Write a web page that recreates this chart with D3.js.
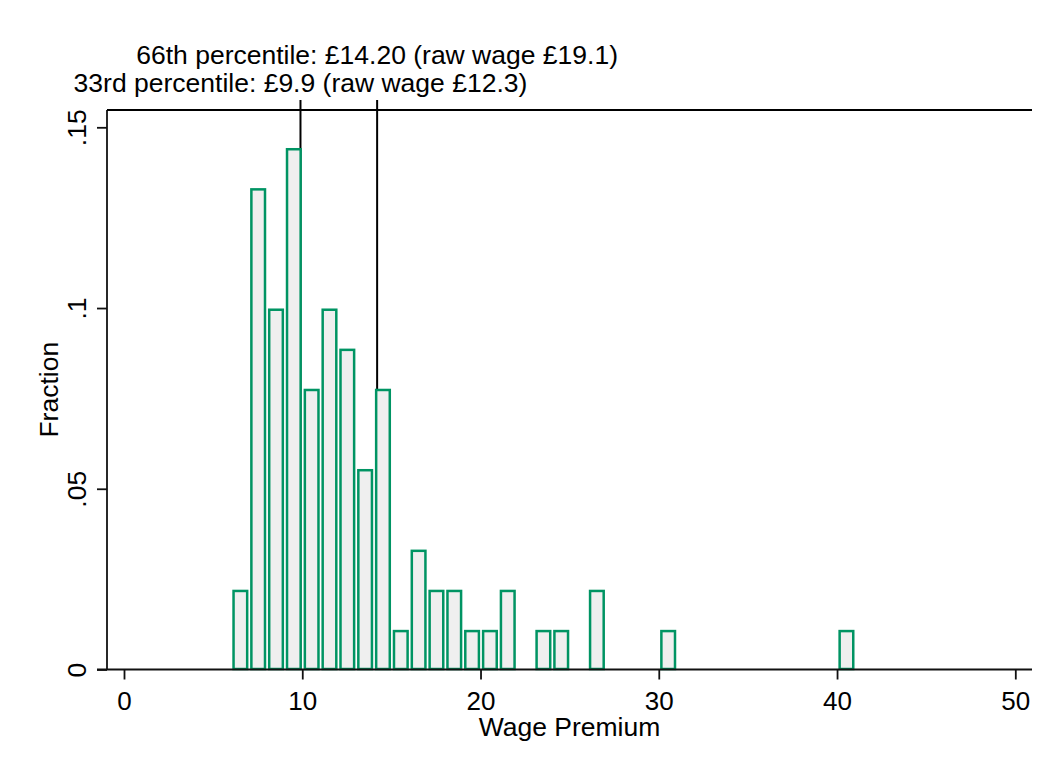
<!DOCTYPE html>
<html><head><meta charset="utf-8">
<script src="https://cdn.jsdelivr.net/npm/d3@7"></script>
<style>body{margin:0;background:#fff;overflow:hidden}</style></head>
<body>
<script>
// ---- data ----
const binStarts = [6.05, 7.05, 8.05, 9.05, 10.05, 11.05, 12.05, 13.05, 14.05, 15.05, 16.05, 17.05, 18.05, 19.05, 20.05, 21.05, 23.05, 24.05, 26.05, 30.05, 40.05];
const fractions = [0.0222, 0.1333, 0.1, 0.1444, 0.0778, 0.1, 0.0889, 0.0556, 0.0778, 0.0111, 0.0333, 0.0222, 0.0222, 0.0111, 0.0111, 0.0222, 0.0111, 0.0111, 0.0222, 0.0111, 0.0111];
const binWidth = 1;
const percentileValues = [14.2, 9.9];
const percentileLabels = ["66th percentile: £14.20 (raw wage £19.1)", "33rd percentile: £9.9 (raw wage £12.3)"];
const xTicks = [0, 10, 20, 30, 40, 50];
const yTicks = [0, 0.05, 0.1, 0.15];
const yTickLabels = ["0", ".05", ".1", ".15"];
const xTitle = "Wage Premium";
const yTitle = "Fraction";

// ---- layout ----
const W = 1061, H = 774;
const FONT = "'Liberation Sans', Arial, Helvetica, sans-serif";
const svg = d3.select("body").append("svg").attr("width", W).attr("height", H)
  .style("font-family", FONT);
svg.append("rect").attr("width", W).attr("height", H).attr("fill", "#fff");

const x = d3.scaleLinear().domain([0, 50]).range([124, 1015.3]);
const y = d3.scaleLinear().domain([0, 0.15]).range([669.5, 127.3]);
const axisLeftX = 107, plotTop = 110, axisRight = 1032, axisLeftExt = 97;

// percentile lines (behind bars)
const lineTops = [100, 100];
svg.selectAll("line.pct").data(percentileValues).join("line")
  .attr("class", "pct")
  .attr("x1", d => x(d)).attr("x2", d => x(d))
  .attr("y1", (d, i) => lineTops[i]).attr("y2", y(0))
  .attr("stroke", "#000").attr("stroke-width", 2);

// bars
const bars = binStarts.map((b, i) => ({ b, f: fractions[i] }));
svg.selectAll("rect.bar").data(bars).join("rect")
  .attr("class", "bar")
  .attr("x", d => x(d.b) + 1.7)
  .attr("width", d => x(d.b + binWidth) - x(d.b) - 4.2)
  .attr("y", d => y(d.f) + 1.7)
  .attr("height", d => y(0) - y(d.f) - 2.2)
  .attr("fill", "#efefef")
  .attr("stroke", "#009463")
  .attr("stroke-width", 2.5);

// percentile labels
const labelBaselines = [64, 92];
svg.selectAll("text.pctl").data(percentileValues).join("text")
  .attr("class", "pctl")
  .attr("x", d => x(d)).attr("y", (d, i) => labelBaselines[i])
  .attr("text-anchor", "middle")
  .attr("font-size", 26.5).attr("fill", "#000")
  .text((d, i) => percentileLabels[i]);

// axes lines
const axisColor = "#111";
svg.append("line").attr("x1", axisLeftExt).attr("x2", axisRight).attr("y1", y(0)).attr("y2", y(0))
  .attr("stroke", axisColor).attr("stroke-width", 1.8);
svg.append("line").attr("x1", axisLeftX).attr("x2", axisLeftX).attr("y1", plotTop).attr("y2", y(0))
  .attr("stroke", axisColor).attr("stroke-width", 1.8);
svg.append("line").attr("x1", axisLeftX).attr("x2", axisRight).attr("y1", plotTop).attr("y2", plotTop)
  .attr("stroke", "#000").attr("stroke-width", 2);

// x axis
const gx = svg.append("g").attr("transform", `translate(0,${y(0)})`)
  .call(d3.axisBottom(x).tickValues(xTicks).tickSize(10).tickSizeOuter(0).tickFormat(d3.format("d")));
gx.select(".domain").remove();
gx.selectAll(".tick line").attr("stroke", axisColor).attr("stroke-width", 1.8);
gx.selectAll(".tick text").attr("y", 40.5).attr("dy", 0)
  .attr("font-size", 26).attr("font-family", FONT).attr("fill", "#000");

// y axis
const gy = svg.append("g").attr("transform", `translate(${axisLeftX},0)`)
  .call(d3.axisLeft(y).tickValues(yTicks).tickSize(10).tickSizeOuter(0)
    .tickFormat((d, i) => yTickLabels[i]));
gy.select(".domain").remove();
gy.selectAll(".tick line").attr("stroke", axisColor).attr("stroke-width", 1.8);
gy.selectAll(".tick text")
  .attr("transform", "rotate(-90)")
  .attr("x", 0).attr("y", -21).attr("dy", 0)
  .attr("text-anchor", "middle")
  .attr("font-size", 26.5).attr("font-family", FONT).attr("fill", "#000");

// titles
svg.append("text").attr("x", (axisLeftX + axisRight) / 2).attr("y", 736)
  .attr("text-anchor", "middle").attr("font-size", 26.5).attr("fill", "#000").text(xTitle);
svg.append("text").attr("transform", `translate(58,${(plotTop + y(0)) / 2}) rotate(-90)`)
  .attr("text-anchor", "middle").attr("font-size", 26.5).attr("fill", "#000").text(yTitle);
</script>
</body></html>
